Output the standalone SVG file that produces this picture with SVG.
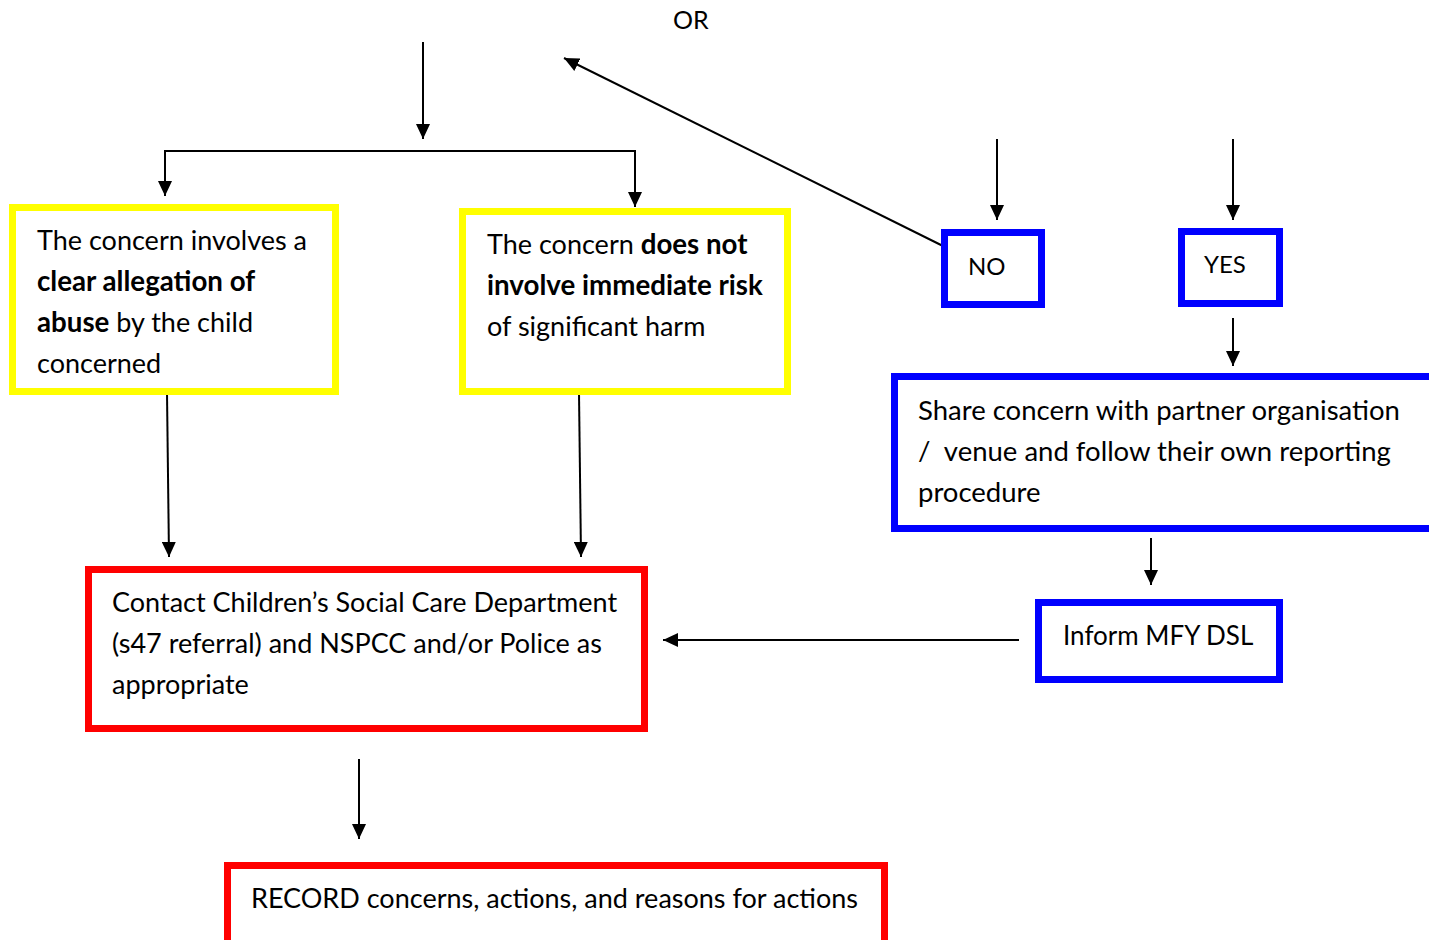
<svg xmlns="http://www.w3.org/2000/svg" width="1429" height="940" viewBox="0 0 1429 940">
<style>
  text { font-family: Lato, "Open Sans", "Liberation Sans", sans-serif; font-size: 27px; fill: #000; }
  .b { font-weight: bold; font-size: 27.7px; }
  .s { font-size: 24px; }
  .yel { fill: #fff; stroke: #FFFF00; stroke-width: 7; }
  .blu { fill: #fff; stroke: #0000FF; stroke-width: 7; }
  .red { fill: #fff; stroke: #FF0000; stroke-width: 7; }
  .c { stroke: #000; stroke-width: 2; fill: none; }
</style>
<defs>
  <marker id="ah" markerUnits="userSpaceOnUse" markerWidth="15" markerHeight="14" refX="15" refY="7" orient="auto">
    <path d="M0,0 L15,7 L0,14 z" fill="#000"/>
  </marker>
</defs>
<rect width="1429" height="940" fill="#fff"/>

<g id="or-label"><text x="673" y="29" style="font-size:25px">OR</text></g>

<g id="connectors">
  <line class="c" x1="423" y1="42" x2="423" y2="139" marker-end="url(#ah)"/>
  <polyline class="c" points="165,196 165,151 635,151 635,207" />
  <line class="c" x1="165" y1="160" x2="165" y2="196" marker-end="url(#ah)"/>
  <line class="c" x1="635" y1="170" x2="635" y2="207" marker-end="url(#ah)"/>
  <line class="c" x1="943" y1="246" x2="564" y2="58" stroke-width="1.6" marker-end="url(#ah)"/>
  <line class="c" x1="997" y1="139" x2="997" y2="220" stroke-width="1.6" marker-end="url(#ah)"/>
  <line class="c" x1="1233" y1="139" x2="1233" y2="220" stroke-width="1.6" marker-end="url(#ah)"/>
  <line class="c" x1="1233" y1="318" x2="1233" y2="366" marker-end="url(#ah)"/>
  <line class="c" x1="167" y1="393" x2="169" y2="557" stroke-width="1.6" marker-end="url(#ah)"/>
  <line class="c" x1="579" y1="393" x2="581" y2="557" stroke-width="1.6" marker-end="url(#ah)"/>
  <line class="c" x1="1151" y1="538" x2="1151" y2="585" stroke-width="1.6" marker-end="url(#ah)"/>
  <line class="c" x1="1019" y1="640" x2="663" y2="640" marker-end="url(#ah)"/>
  <line class="c" x1="359" y1="759" x2="359" y2="839" stroke-width="1.6" marker-end="url(#ah)"/>
</g>

<g id="box-allegation">
  <rect class="yel" x="12.5" y="207.5" width="323" height="184"/>
  <text x="37" y="250">The concern involves a</text>
  <text x="37" y="291" class="b">clear allegation of</text>
  <text x="37" y="332"><tspan class="b">abuse</tspan> by the child</text>
  <text x="37" y="373">concerned</text>
</g>

<g id="box-not-immediate">
  <rect class="yel" x="462.5" y="211.5" width="325" height="180"/>
  <text x="487" y="254">The concern <tspan class="b">does not</tspan></text>
  <text x="487" y="295" class="b">involve immediate risk</text>
  <text x="487" y="336">of significant harm</text>
</g>

<g id="box-no">
  <rect class="blu" x="944.5" y="232.5" width="97" height="72"/>
  <text x="968" y="275" class="s">NO</text>
</g>

<g id="box-yes">
  <rect class="blu" x="1181.5" y="231.5" width="98" height="72"/>
  <text x="1204" y="273" class="s">YES</text>
</g>

<g id="box-share">
  <rect class="blu" x="894.5" y="376.5" width="560" height="152"/>
  <text x="918" y="420" style="font-size:27.5px">Share concern with partner organisation</text>
  <text x="918" y="461" style="font-size:27.5px;white-space:pre">/  venue and follow their own reporting</text>
  <text x="918" y="502" style="font-size:27.5px">procedure</text>
</g>

<g id="box-inform">
  <rect class="blu" x="1038.5" y="602.5" width="241" height="77"/>
  <text x="1063" y="645" style="font-size:26px">Inform MFY DSL</text>
</g>

<g id="box-contact">
  <rect class="red" x="88.5" y="569.5" width="556" height="159"/>
  <text x="112" y="612">Contact Children’s Social Care Department</text>
  <text x="112" y="653">(s47 referral) and NSPCC and/or Police as</text>
  <text x="112" y="694">appropriate</text>
</g>

<g id="box-record">
  <rect class="red" x="227.5" y="865.5" width="657" height="90"/>
  <text x="251" y="908">RECORD concerns, actions, and reasons for actions</text>
</g>
</svg>
